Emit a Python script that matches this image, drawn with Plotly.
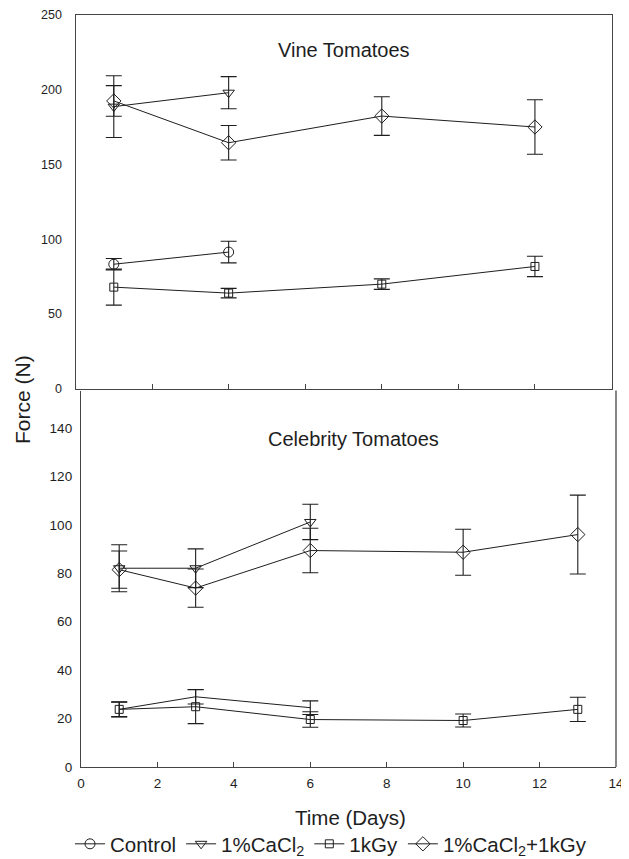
import plotly.graph_objects as go

# page body has an 8px default margin, so the figure is drawn 8px in
OFF = 8
W, H = 629 - OFF, 859 - OFF

# ---- Data: Vine Tomatoes (top panel) ----
vine_days_long = [1, 4, 8, 12]
vine_days_short = [1, 4]
vine_control = [83.3, 91.4]
vine_control_err = [3.8, 7.2]
vine_cacl2 = [188.5, 197.8]
vine_cacl2_err = [20.6, 10.7]
vine_1kgy = [68.0, 64.0, 70.0, 81.8]
vine_1kgy_err = [12.0, 3.2, 3.5, 6.8]
vine_combo = [192.3, 164.4, 182.2, 174.9]
vine_combo_err = [10.2, 11.5, 12.9, 18.2]

# ---- Data: Celebrity Tomatoes (bottom panel) ----
cel_days_long = [1, 3, 6, 10, 13]
cel_days_short = [1, 3, 6]
cel_control = [23.8, 29.0, 24.5]
cel_control_err = [3.0, 3.0, 2.8]
cel_cacl2 = [82.1, 82.1, 101.2]
cel_cacl2_err = [9.7, 8.0, 7.3]
cel_1kgy = [23.8, 24.9, 19.6, 19.2, 23.8]
cel_1kgy_err = [3.1, 7.0, 3.2, 2.7, 5.0]
cel_combo = [81.5, 73.9, 89.4, 88.7, 96.0]
cel_combo_err = [7.7, 7.9, 9.2, 9.5, 16.3]

x_ticks = [0, 2, 4, 6, 8, 10, 12, 14]
top_y_ticks = [0, 50, 100, 150, 200, 250]
bot_y_ticks = [0, 20, 40, 60, 80, 100, 120, 140]

names = ["Control", "1%CaCl<sub>2</sub>", "1kGy", "1%CaCl<sub>2</sub>+1kGy"]
symbols = ["circle-open", "triangle-down-open", "square-open", "diamond-open"]
msizes = [10, 10, 8, 11]

INK = "#1e1e1e"
FONT = "Liberation Sans, Arial, sans-serif"


def px_x(p):
    return (p - OFF) / W


def px_y(p):
    return 1 - (p - OFF) / H


fig = go.Figure()


def add(x, y, err, idx, xa, ya, legend, markers=True):
    fig.add_trace(go.Scatter(
        x=x, y=y, xaxis=xa, yaxis=ya,
        mode="lines+markers" if markers else "lines",
        name=names[idx], showlegend=legend, legendrank=idx,
        line=dict(color=INK, width=1),
        marker=dict(symbol=symbols[idx], size=msizes[idx],
                    color=INK, line=dict(color=INK, width=1)),
        error_y=dict(type="data", array=err, visible=True,
                     color=INK, thickness=1.1, width=8),
    ))


# top panel
add(vine_days_short, vine_control, vine_control_err, 0, "x", "y", True)
add(vine_days_short, vine_cacl2, vine_cacl2_err, 1, "x", "y", True)
add(vine_days_long, vine_1kgy, vine_1kgy_err, 2, "x", "y", True)
add(vine_days_long, vine_combo, vine_combo_err, 3, "x", "y", True)
# bottom panel
add(cel_days_short, cel_control, cel_control_err, 0, "x2", "y2", False, markers=False)
add(cel_days_short, cel_cacl2, cel_cacl2_err, 1, "x2", "y2", False)
add(cel_days_long, cel_1kgy, cel_1kgy_err, 2, "x2", "y2", False)
add(cel_days_long, cel_combo, cel_combo_err, 3, "x2", "y2", False)

AX = "#444444"
top_dom_x = [px_x(75.5), px_x(611.5)]
top_dom_y = [px_y(389), px_y(14.5)]
bot_dom_x = [px_x(81), px_x(616)]
bot_dom_y = [px_y(767), px_y(390.5)]


def ann(text, x, y, size, angle=0):
    return dict(text=text, xref="paper", yref="paper",
                x=px_x(x), y=px_y(y), xanchor="center", yanchor="middle",
                showarrow=False, textangle=angle,
                font=dict(size=size, family=FONT, color=INK))


fig.update_layout(
    width=W, height=H,
    margin=dict(l=0, r=0, t=0, b=0, autoexpand=False),
    paper_bgcolor="white", plot_bgcolor="white",
    font=dict(family=FONT, color=INK),
    xaxis=dict(domain=top_dom_x, range=[0, 14], anchor="y", automargin=False,
               tickvals=x_ticks, showticklabels=False,
               ticks="inside", ticklen=5, tickcolor=AX,
               showline=True, linecolor=AX, linewidth=1.3, mirror=True,
               showgrid=False, zeroline=False),
    yaxis=dict(domain=top_dom_y, range=[0, 250], anchor="x", automargin=False,
               tickvals=top_y_ticks, ticks="", ticklabelstandoff=10,
               ticklabeloverflow="allow",
               tickfont=dict(size=12.5, family=FONT, color=INK),
               showline=True, linecolor=AX, linewidth=1.3, mirror=True,
               showgrid=False, zeroline=False),
    xaxis2=dict(domain=bot_dom_x, range=[0, 14], anchor="y2", automargin=False,
                tickvals=x_ticks, ticks="inside", ticklen=5, tickcolor=AX,
                ticklabelstandoff=4, ticklabeloverflow="allow",
                tickfont=dict(size=13.5, family=FONT, color=INK),
                showline=True, linecolor=AX, linewidth=1.3,
                showgrid=False, zeroline=False),
    yaxis2=dict(domain=bot_dom_y, range=[0, 155.5], anchor="x2", automargin=False,
                tickvals=bot_y_ticks, ticks="", ticklabelstandoff=5,
                ticklabeloverflow="allow",
                tickfont=dict(size=13.5, family=FONT, color=INK),
                showline=True, linecolor=AX, linewidth=1.3,
                showgrid=False, zeroline=False),
    legend=dict(orientation="h", x=px_x(331), y=px_y(844),
                xanchor="center", yanchor="middle",
                font=dict(size=20.5, family=FONT, color=INK),
                traceorder="normal", itemclick=False,
                bgcolor="rgba(0,0,0,0)"),
    shapes=[dict(type="line", xref="paper", yref="paper",
                 x0=bot_dom_x[1], x1=bot_dom_x[1],
                 y0=bot_dom_y[0], y1=bot_dom_y[1],
                 line=dict(color=AX, width=1.3))],
    annotations=[
        ann("Vine Tomatoes", 344, 50, 20),
        ann("Celebrity Tomatoes", 353.5, 439, 20),
        ann("Force (N)", 22, 400, 21, -90),
        ann("Time (Days)", 350, 817, 20.5),
    ],
)

fig.write_html("out.html")
